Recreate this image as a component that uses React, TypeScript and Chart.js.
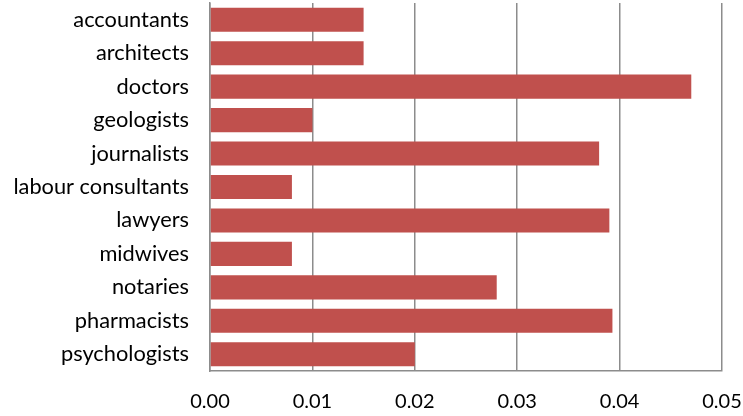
import React, { useEffect, useRef } from "react";
import { Chart, registerables } from "chart.js";

Chart.register(...registerables);

const categories = [
  "accountants",
  "architects",
  "doctors",
  "geologists",
  "journalists",
  "labour consultants",
  "lawyers",
  "midwives",
  "notaries",
  "pharmacists",
  "psychologists",
];
const values = [0.015, 0.015, 0.047, 0.010, 0.038, 0.008, 0.039, 0.008, 0.028, 0.0393, 0.020];
const xMin = 0;
const xMax = 0.05;
const xStep = 0.01;

const FONT = "Lato, 'Open Sans', sans-serif";

export default function App() {
  const ref = useRef<HTMLCanvasElement | null>(null);
  useEffect(() => {
    document.body.style.margin = "0";
    const chart = new Chart(ref.current!, {
      type: "bar",
      data: {
        labels: categories,
        datasets: [
          {
            data: values,
            backgroundColor: "#C0504D",
            borderWidth: 0,
            categoryPercentage: 1,
            barPercentage: 0.72,
          },
        ],
      },
      options: {
        indexAxis: "y",
        animation: false,
        responsive: false,
        maintainAspectRatio: false,
        layout: { padding: { left: 0, right: 21, top: 3, bottom: 0 } },
        plugins: { legend: { display: false }, tooltip: { enabled: false } },
        scales: {
          x: {
            min: xMin,
            max: xMax,
            ticks: {
              stepSize: xStep,
              color: "#000",
              padding: 19,
              font: { family: FONT, size: 20 },
              callback: (v: any) => Number(v).toFixed(2),
            },
            grid: { color: "#8c8c8c", lineWidth: 1.5, drawTicks: false },
            border: { display: true, color: "#8c8c8c", width: 1.5 },
            afterFit: (s: any) => {
              s.height = 45;
              s.paddingLeft = 0;
              s.paddingRight = 0;
            },
          },
          y: {
            ticks: {
              color: "#000",
              padding: 21,
              font: { family: FONT, size: 21.8 },
            },
            grid: { display: false, drawTicks: false },
            border: { display: true, color: "#8c8c8c", width: 1.5 },
            afterFit: (s: any) => {
              s.width = 210;
              s.paddingTop = 0;
              s.paddingBottom = 0;
            },
          },
        },
      },
    });
    return () => chart.destroy();
  }, []);
  return (
    <div style={{ position: "fixed", left: 0, top: 0, width: 743, height: 416, background: "#fff" }}>
      <canvas ref={ref} width={743} height={416} />
    </div>
  );
}
